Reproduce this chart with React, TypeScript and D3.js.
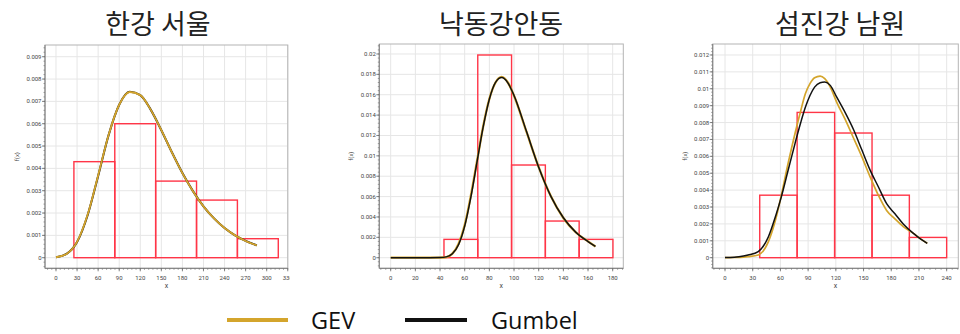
import React from 'react';
import * as d3 from 'd3';

// ---------- data ----------
const titles = ['한강 서울', '낙동강안동', '섬진강 남원'];
const seriesNames = ['GEV', 'Gumbel'];

// Panel 1: 한강 서울
const binEdges1 = [25.5, 83.7, 141.9, 200.1, 258.3, 316.5];
const binHeights1 = [0.0043, 0.006, 0.00343, 0.00258, 0.00085];
const curveX1 = [0, 15, 30, 45, 60, 75, 90, 105, 120, 135, 150, 165, 180, 195, 210, 225, 240, 255, 270, 286];
const gev1 = [0.00002, 0.00017, 0.00071, 0.00192, 0.00368, 0.00551, 0.00685, 0.00742, 0.00728, 0.00662, 0.00571, 0.00472, 0.00379, 0.00298, 0.0023, 0.00176, 0.00133, 0.001, 0.00075, 0.00055];
const gumbel1 = [0.00002, 0.00017, 0.0007, 0.0019, 0.00366, 0.0055, 0.00685, 0.00743, 0.00728, 0.00662, 0.00571, 0.00472, 0.00379, 0.00298, 0.0023, 0.00176, 0.00133, 0.001, 0.00075, 0.00055];
const xTicks1 = [0, 30, 60, 90, 120, 150, 180, 210, 240, 270, 300, 330];
const yTicks1 = [0, 0.001, 0.002, 0.003, 0.004, 0.005, 0.006, 0.007, 0.008, 0.009];

// Panel 2: 낙동강안동
const binEdges2 = [43.2, 70.6, 98.0, 125.4, 152.8, 180.2];
const binHeights2 = [0.0018, 0.0199, 0.0091, 0.0036, 0.0018];
const curveX2 = [0, 20, 40, 45, 50, 55, 60, 65, 70, 75, 80, 85, 90, 95, 100, 110, 120, 130, 140, 150, 160, 166];
const gev2 = [0, 0, 0, 0.00005, 0.0004, 0.00135, 0.0032, 0.0061, 0.0095, 0.0129, 0.0156, 0.0172, 0.01775, 0.0172, 0.0159, 0.0124, 0.0089, 0.006, 0.0039, 0.0025, 0.0016, 0.0011];
const gumbel2 = [0, 0, 0.00001, 0.00008, 0.00038, 0.00127, 0.0031, 0.00594, 0.00941, 0.01284, 0.01556, 0.01721, 0.01768, 0.01717, 0.01593, 0.01243, 0.00888, 0.006, 0.00392, 0.00251, 0.00158, 0.0011];
const xTicks2 = [0, 20, 40, 60, 80, 100, 120, 140, 160, 180];
const yTicks2 = [0, 0.002, 0.004, 0.006, 0.008, 0.01, 0.012, 0.014, 0.016, 0.018, 0.02];

// Panel 3: 섬진강 남원
const binEdges3 = [37.6, 78.1, 118.7, 159.2, 199.6, 240.0];
const binHeights3 = [0.0037, 0.0086, 0.00738, 0.0037, 0.0012];
const curveX3 = [0, 10, 20, 25, 36, 47, 55, 61, 68, 76, 82, 87, 92, 97, 103, 108, 114, 121, 130, 139, 148, 157, 166, 175, 184, 193, 204, 212, 219];
const gev3 = [0, 0.00001, 0.00003, 0.00006, 0.00016, 0.00095, 0.0023, 0.0037, 0.0055, 0.0074, 0.0087, 0.0097, 0.0103, 0.01065, 0.01075, 0.0106, 0.0101, 0.0092, 0.0082, 0.0071, 0.006, 0.0048, 0.0037, 0.0028, 0.0023, 0.00184, 0.00144, 0.0011, 0.00085];
const gumbel3 = [0.00001, 0.00003, 0.0001, 0.00016, 0.00036, 0.00124, 0.0025, 0.0036, 0.0051, 0.0068, 0.008, 0.0089, 0.0096, 0.0101, 0.01036, 0.0104, 0.0102, 0.0095, 0.0086, 0.0076, 0.0064, 0.0052, 0.0042, 0.0032, 0.0026, 0.002, 0.00144, 0.0011, 0.00085];
const xTicks3 = [0, 30, 60, 90, 120, 150, 180, 210, 240];
const yTicks3 = [0, 0.001, 0.002, 0.003, 0.004, 0.005, 0.006, 0.007, 0.008, 0.009, 0.01, 0.011, 0.012];

// ---------- layout / style ----------
const GOLD = '#d4a52c';
const BLACK = '#111111';
const RED = '#ff3547';

type Panel = {
  title: string;
  edges: number[];
  heights: number[];
  cx: number[];
  gev: number[];
  gum: number[];
  xTicks: number[];
  yTicks: number[];
  xDomain: [number, number];
  yDomain: [number, number];
  frame: { l: number; r: number; t: number; b: number };
  gevOnTop: boolean;
  gevW: number;
  gumW: number;
  clipRight: number;
  titleX: number;
};

const panels: Panel[] = [
  {
    title: titles[0], edges: binEdges1, heights: binHeights1, cx: curveX1, gev: gev1, gum: gumbel1,
    xTicks: xTicks1, yTicks: yTicks1, xDomain: [-15.66, 330.06], yDomain: [-0.000475, 0.009525],
    frame: { l: 45, r: 287.8, t: 45, b: 268.3 }, gevOnTop: true, gevW: 1.8, gumW: 2.0,
    clipRight: 290, titleX: 158,
  },
  {
    title: titles[1], edges: binEdges2, heights: binHeights2, cx: curveX2, gev: gev2, gum: gumbel2,
    xTicks: xTicks2, yTicks: yTicks2, xDomain: [-9.24, 188.6], yDomain: [-0.00104, 0.02098],
    frame: { l: 379.3, r: 623.3, t: 44, b: 268.3 }, gevOnTop: false, gevW: 2.3, gumW: 1.5,
    clipRight: 640, titleX: 501,
  },
  {
    title: titles[2], edges: binEdges3, heights: binHeights3, cx: curveX3, gev: gev3, gum: gumbel3,
    xTicks: xTicks3, yTicks: yTicks3, xDomain: [-13.32, 252.6], yDomain: [-0.000628, 0.01265],
    frame: { l: 712.7, r: 958.3, t: 44, b: 268.3 }, gevOnTop: false, gevW: 1.7, gumW: 1.5,
    clipRight: 960, titleX: 840,
  },
];

const TICK_FONT = 'Roboto, "Noto Sans", sans-serif';

function PanelView({ p, idx }: { p: Panel; idx: number }) {
  const { l, r, t, b } = p.frame;
  const sx = d3.scaleLinear().domain(p.xDomain).range([l, r]);
  const sy = d3.scaleLinear().domain(p.yDomain).range([b, t]);
  const line = d3
    .line<[number, number]>()
    .x((d) => sx(d[0]))
    .y((d) => sy(d[1]))
    .curve(d3.curveMonotoneX);
  const gevPath = line(p.cx.map((x, i) => [x, p.gev[i]] as [number, number])) || '';
  const gumPath = line(p.cx.map((x, i) => [x, p.gum[i]] as [number, number])) || '';

  const xStep = p.xTicks[1] - p.xTicks[0];
  const yStep = p.yTicks[1] - p.yTicks[0];
  const xMinor: number[] = [];
  for (let v = p.xTicks[0] - xStep; v <= p.xDomain[1]; v += xStep / 5) {
    if (v >= p.xDomain[0] && v <= p.xDomain[1]) xMinor.push(v);
  }
  const yMinor: number[] = [];
  for (let v = p.yTicks[0] - yStep; v <= p.yDomain[1]; v += yStep / 5) {
    if (v >= p.yDomain[0] && v <= p.yDomain[1]) yMinor.push(v);
  }
  const clipId = `clip-${idx}`;
  const gevEl = <path d={gevPath} fill="none" stroke={GOLD} strokeWidth={p.gevW} />;
  const gumEl = <path d={gumPath} fill="none" stroke={BLACK} strokeWidth={p.gumW} />;

  return (
    <g>
      <defs>
        <clipPath id={clipId}>
          <rect x={l - 45} y={0} width={p.clipRight - (l - 45)} height={334} />
        </clipPath>
      </defs>
      <text
        x={p.titleX}
        y={34}
        textAnchor="middle"
        fontFamily='"Noto Sans CJK KR", sans-serif'
        fontWeight={400}
        fontSize={27}
        fill="#222"
      >
        {p.title}
      </text>
      <g clipPath={`url(#${clipId})`}>
        {/* grid */}
        {p.xTicks.map((v) => (
          <line key={'gx' + v} x1={sx(v)} x2={sx(v)} y1={t} y2={b} stroke="#e6e6e6" strokeWidth={1} />
        ))}
        {p.yTicks.map((v) => (
          <line key={'gy' + v} x1={l} x2={r} y1={sy(v)} y2={sy(v)} stroke="#e6e6e6" strokeWidth={1} />
        ))}
        {/* frame */}
        <rect x={l} y={t} width={r - l} height={b - t} fill="none" stroke="#b4b4b4" strokeWidth={1} />
        <line x1={l} x2={l} y1={t} y2={b} stroke="#8a8a8a" strokeWidth={1.2} />
        <line x1={l} x2={r} y1={b} y2={b} stroke="#8a8a8a" strokeWidth={1.2} />
        {/* histogram */}
        {p.heights.map((h, i) => (
          <rect
            key={'bar' + i}
            x={sx(p.edges[i])}
            y={sy(h)}
            width={sx(p.edges[i + 1]) - sx(p.edges[i])}
            height={sy(0) - sy(h)}
            fill="none"
            stroke={RED}
            strokeWidth={1.4}
          />
        ))}
        {/* curves */}
        {p.gevOnTop ? gumEl : gevEl}
        {p.gevOnTop ? gevEl : gumEl}
        {/* minor ticks */}
        {xMinor.map((v, i) => (
          <line key={'mx' + i} x1={sx(v)} x2={sx(v)} y1={b} y2={b + 1.5} stroke="#777" strokeWidth={0.7} />
        ))}
        {yMinor.map((v, i) => (
          <line key={'my' + i} x1={l - 1.5} x2={l} y1={sy(v)} y2={sy(v)} stroke="#777" strokeWidth={0.7} />
        ))}
        {/* major ticks */}
        {p.xTicks.map((v) => (
          <g key={'tx' + v}>
            <line x1={sx(v)} x2={sx(v)} y1={b} y2={b + 3} stroke="#666" strokeWidth={0.8} />
            <text x={sx(v)} y={279.5} textAnchor="middle" fontFamily={TICK_FONT} fontSize={6} fill="#444">
              {String(v)}
            </text>
          </g>
        ))}
        {p.yTicks.map((v) => (
          <g key={'ty' + v}>
            <line x1={l - 3} x2={l} y1={sy(v)} y2={sy(v)} stroke="#666" strokeWidth={0.8} />
            <text x={l - 3.5} y={sy(v) + 2} textAnchor="end" fontFamily={TICK_FONT} fontSize={6} fill="#444">
              {String(v)}
            </text>
          </g>
        ))}
        {/* axis titles */}
        <text x={(l + r) / 2} y={288} textAnchor="middle" fontFamily={TICK_FONT} fontSize={7} fill="#444">
          x
        </text>
        <text
          transform={`translate(${l - 26},${(t + b) / 2}) rotate(-90)`}
          textAnchor="middle"
          fontFamily={TICK_FONT}
          fontSize={6}
          fill="#444"
        >
          f(x)
        </text>
      </g>
    </g>
  );
}

export default function App() {
  const legendFont = '"Open Sans", "Noto Sans", sans-serif';
  return (
    <svg
      width={960}
      height={334}
      viewBox="0 0 960 334"
      style={{ position: 'absolute', left: 0, top: 0, background: '#fff' }}
    >
      <rect x={0} y={0} width={960} height={334} fill="#fff" />
      {panels.map((p, i) => (
        <PanelView key={i} p={p} idx={i} />
      ))}
      {/* legend */}
      <line x1={227} x2={288} y1={320} y2={320} stroke={GOLD} strokeWidth={4} />
      <text x={311} y={328.5} fontFamily={legendFont} fontSize={23.5} fill="#111">
        {seriesNames[0]}
      </text>
      <line x1={405} x2={467} y1={320} y2={320} stroke={BLACK} strokeWidth={4} />
      <text x={491} y={328.5} fontFamily={legendFont} fontSize={23.5} fill="#111">
        {seriesNames[1]}
      </text>
    </svg>
  );
}
